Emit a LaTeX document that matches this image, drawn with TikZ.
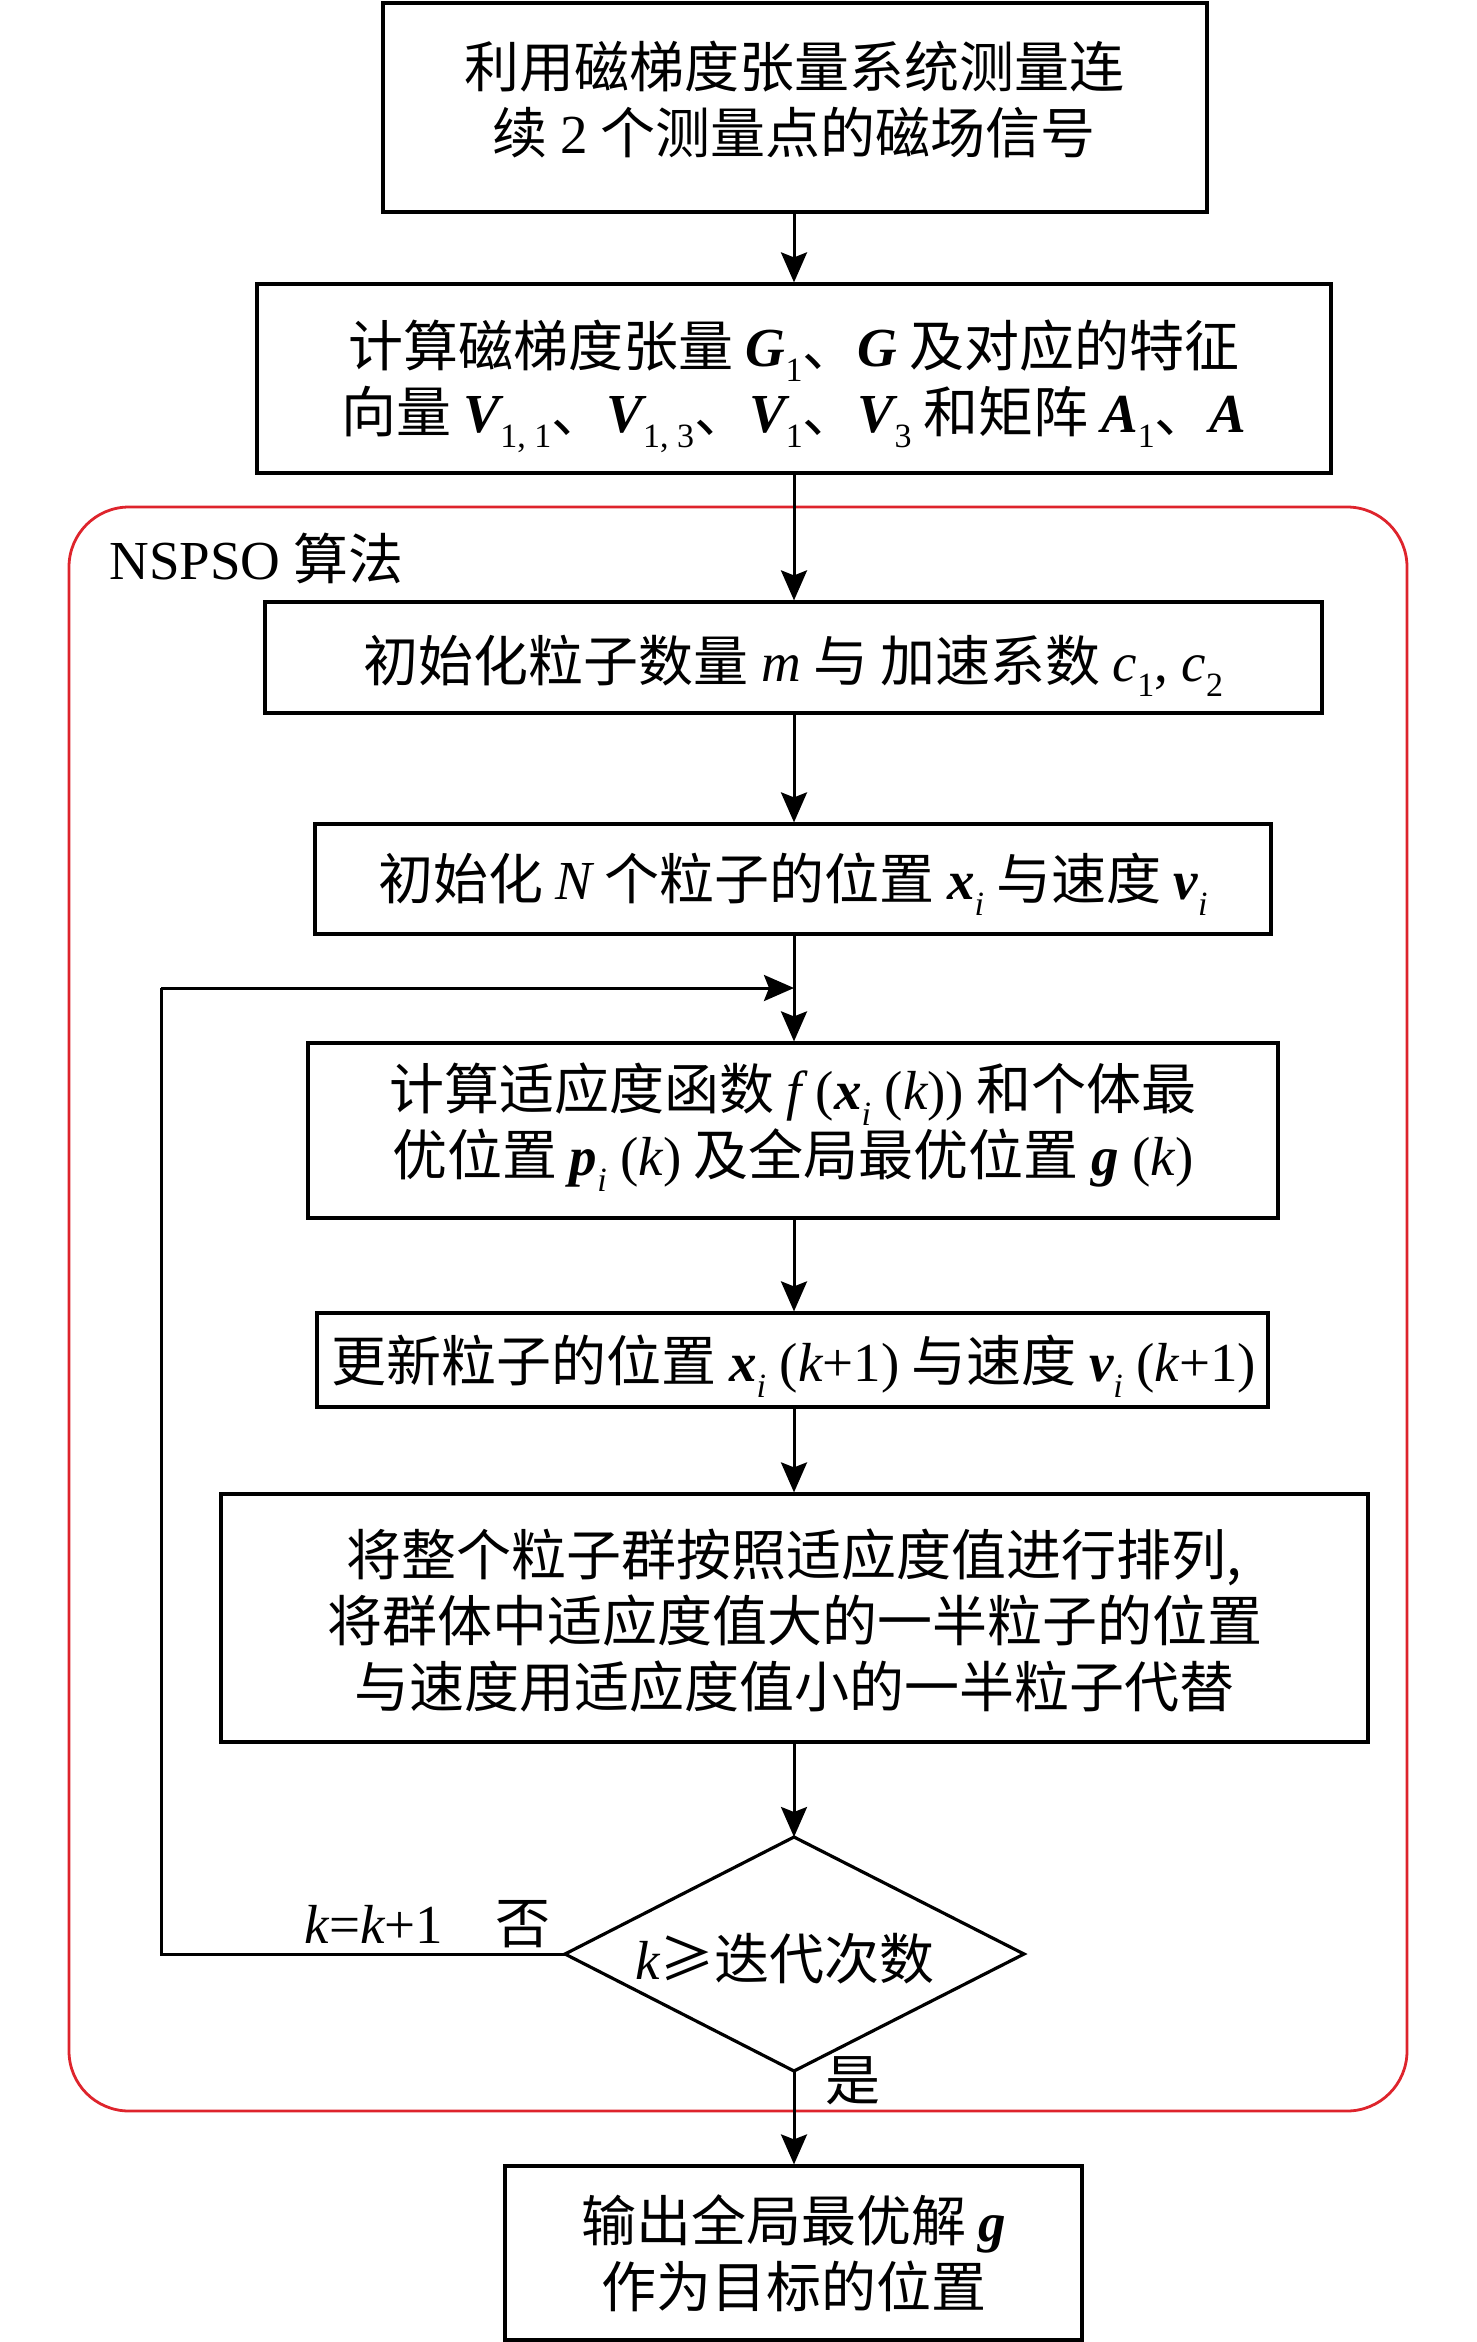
\documentclass[tikz,border=0pt]{standalone}
\usepackage{fontspec}
\setmainfont{Noto Sans CJK SC}
\newfontfamily\tnr{Liberation Serif}
\usetikzlibrary{arrows.meta}
\newcommand\vb[1]{{\tnr\bfseries\itshape #1}}
\newcommand\vi[1]{{\tnr\itshape #1}}
\newcommand\lt[1]{{\tnr #1}}
\newcommand\sbs[1]{\raisebox{-0.28em}{\fontsize{34}{34}\selectfont\tnr #1}}
\definecolor{frame}{RGB}{222,36,44}
\begin{document}
\begin{tikzpicture}[x=1pt,y=-1pt,
  every node/.style={font=\fontsize{55}{66}\selectfont},
  box/.style={draw,line width=3.2pt,rectangle,inner sep=0pt},
  txt/.style={align=center,inner sep=0pt},
  arr/.style={line width=3pt,-{Stealth[length=30pt,width=26pt,inset=5pt]}},
  ln/.style={line width=3pt}]
\useasboundingbox (0,0) rectangle (1476,2342);
% red frame
\draw[frame,line width=2.8pt,rounded corners=60pt] (69,507) rectangle (1407,2111);
\node[anchor=west] (lab) at (106,558) {\lt{NSPSO} 算法};
% boxes
\node[box,minimum width=824pt,minimum height=209pt] (b1) at (795,107.5) {};
\node[txt] (t1) at (794,100) {利用磁梯度张量系统测量连\\续 \lt{2} 个测量点的磁场信号};
\node[box,minimum width=1074pt,minimum height=189pt] (b2) at (794,378.5) {};
\node[txt] (t2) at (794,386)
  {计算磁梯度张量 \vb{G}\sbs{1}、\vb{G} 及对应的特征\\向量 \vb{V}\sbs{1, 1}、\vb{V}\sbs{1, 3}、\vb{V}\sbs{1}、\vb{V}\sbs{3} 和矩阵 \vb{A}\sbs{1}、\vb{A}};
\node[box,minimum width=1057pt,minimum height=111pt] (b3) at (793.5,657.5) {};
\node[txt] (t3) at (793.5,666)
  {初始化粒子数量 \vi{m} 与 加速系数 \vi{c}\sbs{1}\lt{, }\vi{c}\sbs{2}};
\node[box,minimum width=956pt,minimum height=110pt] (b4) at (793,879) {};
\node[txt] (t4) at (793,884)
  {初始化 \vi{N} 个粒子的位置 \vb{x}\sbs{\itshape i} 与速度 \vb{v}\sbs{\itshape i}};
\node[box,minimum width=970pt,minimum height=175pt] (b5) at (793,1130.5) {};
\node[txt] (t5) at (793,1127)
  {计算适应度函数 \vi{f}\lt{ (}\vb{x}\sbs{\itshape i}\lt{ (}\vi{k}\lt{))} 和个体最\\优位置 \vb{p}\sbs{\itshape i}\lt{ (}\vi{k}\lt{)} 及全局最优位置 \vb{g}\lt{ (}\vi{k}\lt{)}};
\node[box,minimum width=951pt,minimum height=94pt] (b6) at (792.5,1360) {};
\node[txt] (t6) at (794,1366)
  {更新粒子的位置 \vb{x}\sbs{\itshape i}\lt{ (}\vi{k}\lt{+1)} 与速度 \vb{v}\sbs{\itshape i}\lt{ (}\vi{k}\lt{+1)}};
\node[box,minimum width=1147pt,minimum height=248pt] (b7) at (794.5,1618) {};
\node[txt] (t7) at (794.5,1621)
  {将整个粒子群按照适应度值进行排列,\\将群体中适应度值大的一半粒子的位置\\与速度用适应度值小的一半粒子代替};
% diamond
\coordinate (dn) at (794,1837);
\coordinate (ds) at (794,2071);
\coordinate (dw) at (565,1954);
\coordinate (de) at (1024,1954);
\draw[line width=3.2pt,line join=miter] (dn) -- (de) -- (ds) -- (dw) -- cycle;
\node[txt] (dt) at (785,1959) {\vi{k}≥迭代次数};
\node[box,minimum width=577pt,minimum height=174pt] (b8) at (793.5,2253) {};
\node[txt] (t8) at (793.5,2253) {输出全局最优解 \vb{g}\\作为目标的位置};
% labels
\node (no) at (523,1924) {否};
\node (kk) at (374,1924) {\vi{k}\lt{=}\vi{k}\lt{+1}};
\node (yes) at (853,2081) {是};
% connectors
\coordinate (c1) at (161,1954);
\coordinate (c2) at (161,988);
\coordinate (c3) at (794,988);
\draw[arr] (b1.south -| dn) -- (b2.north -| dn);
\draw[arr] (b2.south -| dn) -- (b3.north -| dn);
\draw[arr] (b3.south -| dn) -- (b4.north -| dn);
\draw[arr] (b4.south -| dn) -- (b5.north -| dn);
\draw[arr] (b5.south -| dn) -- (b6.north -| dn);
\draw[arr] (b6.south -| dn) -- (b7.north -| dn);
\draw[arr] (b7.south -| dn) -- (dn);
\draw[arr] (ds) -- (b8.north -| dn);
\draw[ln] (dw) -- (c1) -- (c2);
\draw[arr] (c2) -- (c3);
\end{tikzpicture}
\end{document}
